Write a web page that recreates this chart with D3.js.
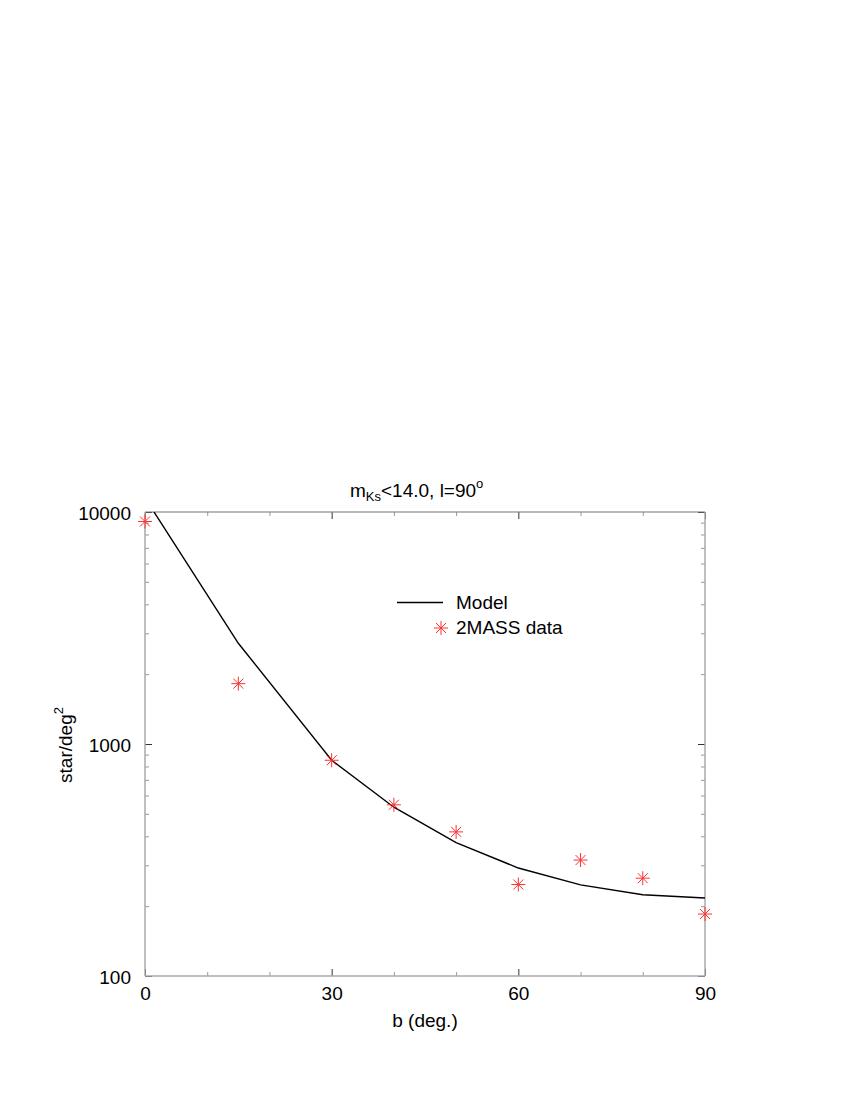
<!DOCTYPE html>
<html>
<head>
<meta charset="utf-8">
<script src="https://cdn.jsdelivr.net/npm/d3@7"></script>
<style>
  body { margin: 0; background: #fff; }
  svg { display: block; }
  text { font-family: "Liberation Sans", Arial, Helvetica, sans-serif; fill: #000; }
</style>
</head>
<body>
<svg id="chart" width="850" height="1100"></svg>
<script>
// ---- data ----
const dataB = [0, 15, 30, 40, 50, 60, 70, 80, 90];
const dataStars = [9100, 1820, 851, 547, 418, 248, 316, 264, 185];
const modelB = [0, 15, 30, 40, 50, 60, 70, 80, 90];
const modelStars = [11500, 2717, 851, 534, 376, 292, 247, 224, 217];
const xMajorTicks = [0, 30, 60, 90];
const xMinorTicks = [10, 20, 40, 50, 70, 80];
const yMajorTicks = [100, 1000, 10000];
const yMinorTicks = [200, 300, 400, 500, 600, 700, 800, 900, 2000, 3000, 4000, 5000, 6000, 7000, 8000, 9000];

const svg = d3.select("#chart");
const L = 145, R = 705, T = 512, B = 976;
const x = d3.scaleLinear().domain([0, 90]).range([L, R]);
const y = d3.scaleLog().domain([100, 10000]).range([B, T]);

// clip
svg.append("defs").append("clipPath").attr("id", "clip")
  .append("rect").attr("x", L).attr("y", T).attr("width", R - L).attr("height", B - T);

// axes: ticks inward
function styleAxis(g, major) {
  g.select(".domain").remove();
  g.selectAll(".tick line").attr("stroke", major ? "#333" : "#999").attr("stroke-width", 1);
}
const fontSize = 19;

// bottom major
svg.append("g").attr("transform", `translate(0,${B})`)
  .call(d3.axisBottom(x).tickValues(xMajorTicks).tickSize(-7).tickPadding(16).tickFormat(d3.format("d")))
  .call(g => { styleAxis(g, true); g.selectAll("text").attr("font-size", fontSize).attr("dy", null).attr("y", 24); });
svg.append("g").attr("transform", `translate(0,${B})`)
  .call(d3.axisBottom(x).tickValues(xMinorTicks).tickSize(-4).tickFormat(""))
  .call(g => styleAxis(g, false));
// top
svg.append("g").attr("transform", `translate(0,${T})`)
  .call(d3.axisTop(x).tickValues(xMajorTicks).tickSize(-7).tickFormat(""))
  .call(g => styleAxis(g, true));
svg.append("g").attr("transform", `translate(0,${T})`)
  .call(d3.axisTop(x).tickValues(xMinorTicks).tickSize(-4).tickFormat(""))
  .call(g => styleAxis(g, false));
// left
svg.append("g").attr("transform", `translate(${L},0)`)
  .call(d3.axisLeft(y).tickValues(yMajorTicks).tickSize(-7).tickPadding(14).tickFormat(d3.format("d")))
  .call(g => { styleAxis(g, true); g.selectAll("text").attr("font-size", fontSize).attr("dy", "0.38em"); });
svg.append("g").attr("transform", `translate(${L},0)`)
  .call(d3.axisLeft(y).tickValues(yMinorTicks).tickSize(-4).tickFormat(""))
  .call(g => styleAxis(g, false));
// right
svg.append("g").attr("transform", `translate(${R},0)`)
  .call(d3.axisRight(y).tickValues(yMajorTicks).tickSize(-7).tickFormat(""))
  .call(g => styleAxis(g, true));
svg.append("g").attr("transform", `translate(${R},0)`)
  .call(d3.axisRight(y).tickValues(yMinorTicks).tickSize(-4).tickFormat(""))
  .call(g => styleAxis(g, false));

// frame
svg.append("line").attr("x1", L).attr("x2", R).attr("y1", T).attr("y2", T).attr("stroke", "#777").attr("stroke-width", 1.2);
svg.append("line").attr("x1", L).attr("x2", R).attr("y1", B).attr("y2", B).attr("stroke", "#aaa").attr("stroke-width", 1.5);
svg.append("line").attr("x1", L).attr("x2", L).attr("y1", T).attr("y2", B).attr("stroke", "#aaa").attr("stroke-width", 1.5);
svg.append("line").attr("x1", R).attr("x2", R).attr("y1", T).attr("y2", B).attr("stroke", "#aaa").attr("stroke-width", 1.5);

// model line
const line = d3.line().x((d, i) => x(modelB[i])).y(d => y(d));
svg.append("path").datum(modelStars)
  .attr("clip-path", "url(#clip)")
  .attr("d", line).attr("fill", "none").attr("stroke", "#000").attr("stroke-width", 1.4);

// star marker
function star(g, cx, cy) {
  const r = 7, rd = 5;
  const s = g.append("g").attr("transform", `translate(${cx},${cy})`)
    .attr("stroke", "#ff3030").attr("stroke-width", 1);
  s.append("line").attr("x1", -r).attr("x2", r).attr("y1", 0).attr("y2", 0);
  s.append("line").attr("x1", 0).attr("x2", 0).attr("y1", -r).attr("y2", r);
  s.append("line").attr("x1", -rd).attr("x2", rd).attr("y1", -rd).attr("y2", rd);
  s.append("line").attr("x1", -rd).attr("x2", rd).attr("y1", rd).attr("y2", -rd);
}
const pts = svg.append("g");
dataStars.forEach((v, i) => star(pts, x(dataB[i]), y(v)));

// legend
svg.append("line").attr("x1", 397).attr("x2", 443).attr("y1", 602.5).attr("y2", 602.5)
  .attr("stroke", "#000").attr("stroke-width", 1.4);
svg.append("text").attr("x", 456).attr("y", 609).attr("font-size", fontSize).text("Model");
star(svg, 441, 628);
svg.append("text").attr("x", 456).attr("y", 634).attr("font-size", fontSize).text("2MASS data");

// title
const title = svg.append("text").attr("x", 350).attr("y", 497).attr("font-size", fontSize);
title.append("tspan").text("m");
title.append("tspan").attr("font-size", 13).attr("dy", 4).text("Ks");
title.append("tspan").attr("dy", -4).text("<14.0, l=90");
title.append("tspan").attr("font-size", 13).attr("dy", -9).text("o");

// axis labels
svg.append("text").attr("x", 425).attr("y", 1027).attr("text-anchor", "middle").attr("font-size", fontSize).text("b (deg.)");
const yl = svg.append("text").attr("transform", "translate(72,745) rotate(-90)")
  .attr("text-anchor", "middle").attr("font-size", fontSize);
yl.append("tspan").text("star/deg");
yl.append("tspan").attr("font-size", 13).attr("dy", -9).text("2");
</script>
</body>
</html>
